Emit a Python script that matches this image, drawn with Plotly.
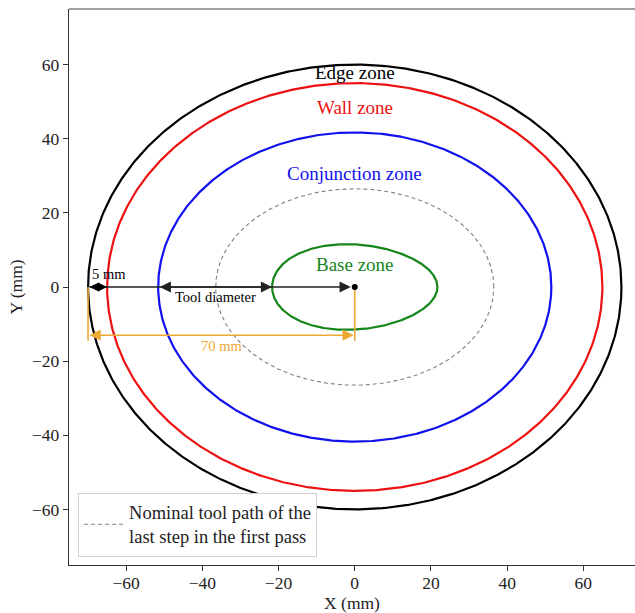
import numpy as np
import plotly.graph_objects as go

# Zone boundaries (semi-axes in mm, centred on the origin)
zone_names = ["Edge zone", "Wall zone", "Conjunction zone", "Base zone"]
zone_a = [70.0, 65.0, 51.6, 21.7]
zone_b = [60.0, 55.0, 41.7, 11.5]
zone_colors = ["#000000", "#ee1111", "#1111ee", "#14861a"]
zone_label_y = [57.8, 48.3, 30.5, 6.2]

# Nominal tool path (dashed)
path_a = 36.5
path_b = 26.5
path_name = "Nominal tool path of the<br>last step in the first pass"

# Dimension markers (mm)
edge_x = -70.0
wall_x = -65.0
conj_x = -51.6
base_x = -21.7
orange_y = -13.0
orange_drop = -14.5

FONT = "Liberation Serif"
ORANGE = "#EDA934"

t = np.linspace(0, 2 * np.pi, 721)
fig = go.Figure()

for name, a, b, c in zip(zone_names, zone_a, zone_b, zone_colors):
    if name == "Base zone":
        # slightly egg-shaped base region, narrower towards +x
        x = a * np.cos(t)
        y = b * np.sin(t) * (1 - 0.1 * np.cos(t))
    else:
        x = a * np.cos(t)
        y = b * np.sin(t)
    fig.add_trace(go.Scatter(x=x, y=y, mode="lines", line=dict(color=c, width=2.2),
                             showlegend=False, hoverinfo="skip"))

fig.add_trace(go.Scatter(x=path_a * np.cos(t), y=path_b * np.sin(t), mode="lines",
                         line=dict(color="#808080", width=1.1, dash="4px,3px"),
                         name=path_name, showlegend=True, hoverinfo="skip"))

# orange verticals for the 70 mm dimension
fig.add_trace(go.Scatter(x=[edge_x, edge_x], y=[0, orange_drop], mode="lines",
                         line=dict(color=ORANGE, width=1.6), showlegend=False, hoverinfo="skip"))
fig.add_trace(go.Scatter(x=[0, 0], y=[0, orange_drop], mode="lines",
                         line=dict(color=ORANGE, width=1.6), showlegend=False, hoverinfo="skip"))

# centre point
fig.add_trace(go.Scatter(x=[0], y=[0], mode="markers", marker=dict(color="black", size=6),
                         showlegend=False, hoverinfo="skip"))

ann = []
for name, c, ly in zip(zone_names, zone_colors, zone_label_y):
    ann.append(dict(x=0, y=ly, text=name, showarrow=False,
                    font=dict(family=FONT, size=19, color=c)))

def arrow(x0, x1, y, color, both=True, standoff=0, size=1.6):
    return dict(x=x1, y=y, ax=x0, ay=y, xref="x", yref="y", axref="x", ayref="y",
                text="", showarrow=True, arrowhead=2, arrowsize=size, arrowwidth=1.4,
                arrowcolor=color, arrowside="end+start" if both else "end",
                standoff=standoff, startstandoff=0)

ann.append(arrow(edge_x, 0, 0, "#222222", both=False, standoff=4))
ann.append(arrow(edge_x, wall_x, 0, "#000000", size=1.3))
ann.append(arrow(conj_x, base_x, 0, "#222222"))
ann.append(arrow(edge_x, 0, orange_y, ORANGE, standoff=1))

ann.append(dict(x=-69.5, y=3.4, text="5 mm", showarrow=False, xanchor="left",
                font=dict(family=FONT, size=14.5, color="black")))
ann.append(dict(x=-36.5, y=-2.8, text="Tool diameter", showarrow=False,
                font=dict(family=FONT, size=14.5, color="black")))
ann.append(dict(x=-35, y=-15.8, text="70 mm", showarrow=False,
                font=dict(family=FONT, size=14.5, color=ORANGE)))

fig.update_layout(
    width=635, height=613,
    margin=dict(l=69, r=0, t=9, b=48),
    paper_bgcolor="white", plot_bgcolor="white",
    font=dict(family=FONT, size=17, color="#222222"),
    annotations=ann,
    showlegend=True,
    legend=dict(x=0.016, y=0.015, xanchor="left", yanchor="bottom",
                bgcolor="white", bordercolor="#d0d0d0", borderwidth=1,
                font=dict(family=FONT, size=18.5, color="#222222"),
                itemwidth=40, tracegroupgap=0),
    shapes=[dict(type="line", xref="paper", yref="paper", x0=0, x1=1, y0=1, y1=1,
                 line=dict(color="#808080", width=1.3))],
)
fig.update_xaxes(range=[-75, 73.56], tickvals=[-60, -40, -20, 0, 20, 40, 60],
                 ticktext=["\u221260", "\u221240", "\u221220", "0", "20", "40", "60"],
                 showgrid=False, zeroline=False, showline=True, linecolor="#333333",
                 linewidth=1.3, ticks="outside", ticklen=5, tickcolor="#333333",
                 ticklabelstandoff=-3,
                 title=dict(text="X (mm)", standoff=3, font=dict(family=FONT, size=17.5)),
                 tickfont=dict(family=FONT, size=17.5))
fig.update_yaxes(range=[-75, 75], tickvals=[-60, -40, -20, 0, 20, 40, 60],
                 ticktext=["\u221260", "\u221240", "\u221220", "0", "20", "40", "60"],
                 showgrid=False, zeroline=False, showline=True, linecolor="#333333",
                 linewidth=1.3, ticks="outside", ticklen=5, tickcolor="#333333",
                 title=dict(text="Y (mm)", standoff=4, font=dict(family=FONT, size=17.5)),
                 tickfont=dict(family=FONT, size=17.5))

fig.write_html("out.html")
